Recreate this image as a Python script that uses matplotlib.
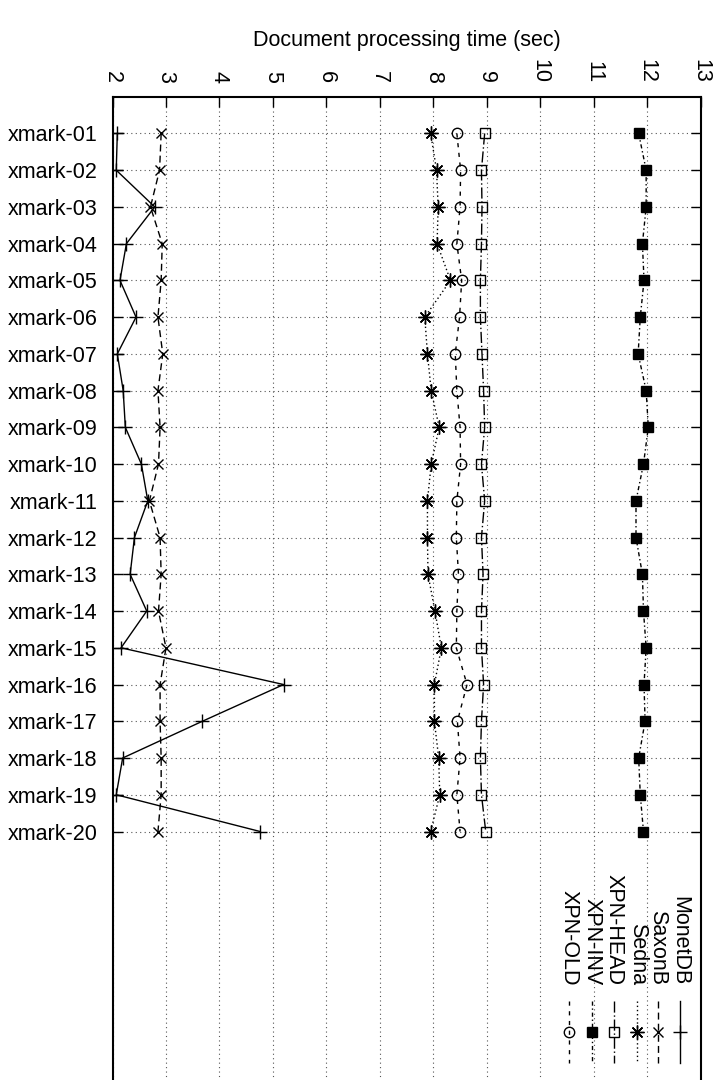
import matplotlib
matplotlib.use("Agg")
import matplotlib.pyplot as plt
from matplotlib.lines import Line2D

plt.rcParams['font.family'] = ['Liberation Sans', 'DejaVu Sans']

categories = ["xmark-%02d" % i for i in range(1, 21)]

monetdb = [2.09, 2.07, 2.79, 2.26, 2.14, 2.44, 2.09, 2.20, 2.24, 2.54,
           2.66, 2.41, 2.33, 2.64, 2.16, 5.20, 3.68, 2.19, 2.07, 4.76]
saxonb = [2.91, 2.88, 2.71, 2.93, 2.91, 2.85, 2.94, 2.85, 2.89, 2.86,
          2.69, 2.89, 2.91, 2.86, 3.00, 2.89, 2.89, 2.91, 2.91, 2.85]
sedna = [7.95, 8.06, 8.09, 8.07, 8.32, 7.84, 7.89, 7.96, 8.11, 7.96,
         7.89, 7.89, 7.90, 8.03, 8.15, 8.02, 8.02, 8.10, 8.12, 7.95]
xpn_head = [8.96, 8.90, 8.91, 8.90, 8.88, 8.88, 8.91, 8.94, 8.96, 8.90,
            8.96, 8.90, 8.93, 8.90, 8.90, 8.94, 8.90, 8.88, 8.90, 8.98]
xpn_inv = [11.84, 11.98, 11.98, 11.91, 11.94, 11.87, 11.83, 11.98, 12.02, 11.93,
           11.79, 11.79, 11.91, 11.93, 11.98, 11.94, 11.96, 11.84, 11.87, 11.93]
xpn_old = [8.44, 8.51, 8.50, 8.44, 8.53, 8.49, 8.41, 8.44, 8.50, 8.51,
           8.44, 8.43, 8.47, 8.44, 8.43, 8.63, 8.45, 8.50, 8.44, 8.50]

series_names = ["MonetDB", "SaxonB", "Sedna", "XPN-HEAD", "XPN-INV", "XPN-OLD"]
series_values = [monetdb, saxonb, sedna, xpn_head, xpn_inv, xpn_old]
x_ticks = list(range(2, 14))

styles = [
    dict(linestyle='-', marker='+', markersize=10, mfc='none'),
    dict(linestyle=(0, (5, 3)), marker='x', markersize=7.5, mfc='none'),
    dict(linestyle=(0, (1, 2)), marker=(8, 2, 0), markersize=10, mfc='none'),
    dict(linestyle=(0, (8, 2, 1, 2)), marker='s', markersize=7.5, mfc='none'),
    dict(linestyle=(0, (3, 2, 1, 2)), marker='s', markersize=7.5, mfc='black'),
    dict(linestyle=(0, (3, 4)), marker='o', markersize=7.5, mfc='none'),
]

FS = 15.5
W, H = 719, 1080
fig = plt.figure(figsize=(W / 100, H / 100), dpi=100)
left_px, right_px, top_px = 112.5, 700.7, 96.7
row_px = 36.74
ymax = 27
bottom_px = top_px + ymax * row_px
ax = fig.add_axes([left_px / W, 1 - bottom_px / H, (right_px - left_px) / W,
                   (bottom_px - top_px) / H])

ypos = list(range(1, len(categories) + 1))
for name, vals, st in zip(series_names, series_values, styles):
    ax.plot(vals, ypos, color='black', linewidth=1.0, markeredgewidth=1.0,
            markeredgecolor='black', **st)

ax.set_xlim(2, 13)
ax.set_ylim(ymax, 0)
ax.set_xticks(x_ticks)
ax.set_xticklabels([str(v) for v in x_ticks], rotation=-90, fontsize=FS)
ax.set_yticks(ypos)
ax.set_yticklabels(categories, fontsize=FS)
ax.xaxis.tick_top()
ax.xaxis.set_label_position('top')
ax.set_xlabel("Document processing time (sec)", fontsize=FS, labelpad=9)
ax.tick_params(axis='x', direction='in', length=7, width=1, top=True, bottom=False, pad=10)
ax.tick_params(axis='y', direction='in', length=7, width=1, left=True, right=True, pad=11)
ax.grid(True, color='#555555', linestyle=(0, (1, 3)), linewidth=0.8)
for s in ax.spines.values():
    s.set_linewidth(1.5)

# legend (rotated, gnuplot style)
leg_x = [12.61, 12.20, 11.81, 11.38, 10.96, 10.53]
text_end, samp_a, samp_b, samp_m = 24.19, 24.6, 26.31, 25.47
for name, st, lx in zip(series_names, styles, leg_x):
    ax.text(lx, text_end, name, rotation=-90, ha='center', va='bottom', fontsize=FS)
    ls = st['linestyle']
    ax.add_line(Line2D([lx, lx], [samp_a, samp_b], color='black', linewidth=1.0,
                       linestyle=ls))
    ax.add_line(Line2D([lx], [samp_m], color='black', linestyle='none',
                       marker=st['marker'], markersize=st['markersize'],
                       mfc=st['mfc'], mec='black', markeredgewidth=1.0))

fig.savefig("out.png", dpi=100)
